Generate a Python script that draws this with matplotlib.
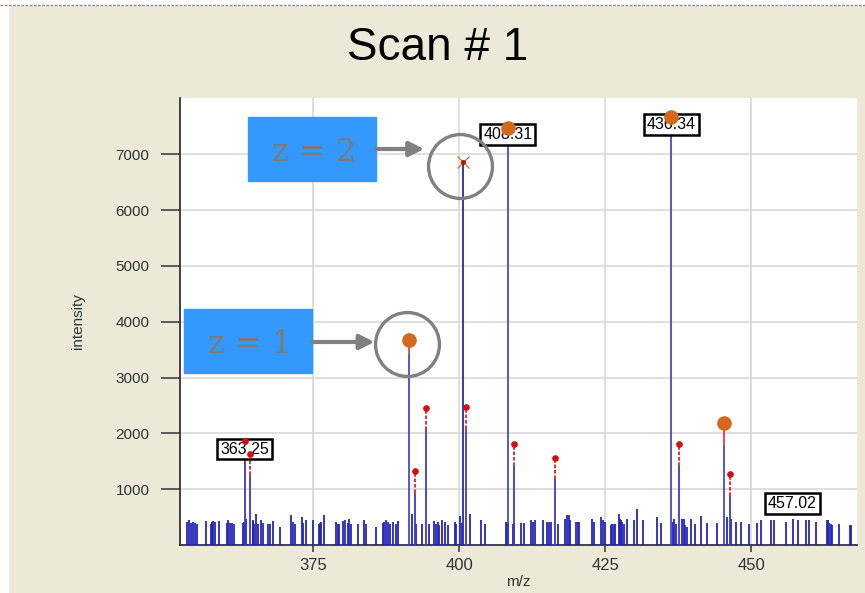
import numpy as np
import matplotlib
matplotlib.use('Agg')
import matplotlib.pyplot as plt
from matplotlib.patches import Rectangle
from matplotlib.lines import Line2D

plt.rcParams['font.family'] = ['Liberation Sans', 'DejaVu Sans']

#%% dane widma

# szum (m/z, intensywnosc)
noise_mz = [353.34, 353.68, 354.08, 354.37, 354.77, 355.05, 356.65, 357.51, 357.6, 357.74,
            357.91, 358.14, 358.94, 360.19, 360.48, 360.76, 361.05, 361.5, 362.93, 363.16,
            363.3, 363.44, 364.64, 364.75, 364.87, 365.21, 365.61, 366.13, 366.36, 367.33,
            367.61, 368.07, 369.32, 371.21, 371.49, 371.89, 373.03, 373.32, 373.72, 375.03,
            375.95, 376.17, 376.35, 376.92, 378.91, 379.2, 379.49, 380.17, 380.51, 381.03,
            381.2, 381.48, 382.62, 383.77, 384.05, 385.76, 386.9, 387.19, 387.48, 387.76,
            388.16, 388.62, 389.19, 389.47, 391.87, 392.61, 393.64, 394.9, 395.75, 396.04,
            396.32, 396.61, 397.07, 397.64, 398.04,
            399.24, 399.46, 400.21, 400.49, 401.92, 403.8, 404.37, 408.08, 408.2, 408.37,
            409.17, 409.3, 410.65, 411.05, 412.36, 412.65, 412.94, 414.3, 415.05, 415.33,
            415.79, 416.93, 418.19, 418.47, 418.76, 419.04, 420.01, 420.35, 420.58,
            422.74, 423.03, 424.34, 424.63, 424.91, 425.94, 426.17, 426.51, 426.74, 427.31,
            427.6, 427.75, 427.94, 428.22, 428.8, 429.94, 430.45, 431.48, 433.87, 434.5,
            436.6, 436.79, 437.19, 438.21, 438.5, 438.73, 439.01, 439.64, 440.33, 441.47,
            442.49, 444.15,
            445.81, 446.61, 447.35, 448.2, 449.63, 451.06, 451.74, 453.34, 453.91, 455.91,
            457.22, 458.02, 459.33, 459.91, 461.05, 462.93, 463.1, 463.33, 463.62, 463.9,
            465.04, 466.92, 467.15]
noise_int = [420, 440, 400, 410, 390, 380, 430, 380, 400, 420,
             430, 410, 430, 400, 440, 390, 400, 380, 390, 420,
             390, 470, 440, 430, 380, 560, 380, 440, 400, 380,
             370, 430, 330, 530, 420, 370, 510, 400, 440, 450,
             370, 400, 410, 540, 420, 380, 380, 430, 440, 400,
             470, 380, 380, 440, 380, 330, 400, 420, 440, 410,
             380, 420, 370, 430, 560, 380, 380, 380, 430, 380,
             420, 360, 440, 420, 350,
             420, 380, 520, 400, 560, 440, 380, 410, 380, 400,
             380, 400, 400, 400, 440, 420, 450, 450, 420, 410,
             410, 380, 470, 530, 540, 440, 420, 420, 420,
             470, 410, 510, 440, 420, 350, 370, 380, 380, 560,
             470, 450, 420, 380, 470, 440, 640, 440, 510, 400,
             420, 470, 380, 470, 470, 350, 320, 470, 380, 520,
             400, 400,
             510, 470, 420, 420, 380, 400, 440, 440, 450, 420,
             470, 450, 440, 440, 420, 450, 440, 400, 380, 360,
             380, 360, 360]

# glowne piki (niebieska linia + czerwony koniec + pomaranczowa kropka)
main_mz = [391.4, 408.31, 436.34, 445.3]
main_blue = [3400, 7200, 7350, 1790]
main_top = [3680, 7465, 7676, 2186]

# pik z = 2
z2_mz = 400.6
z2_int = 6860

# piki izotopowe (czerwona przerywana koncowka)
iso_mz = [363.25, 364.1, 392.5, 394.3, 401.2, 409.4, 416.4, 437.6, 446.3]
iso_blue = [1490, 1250, 940, 2060, 2080, 1420, 1190, 1420, 870]
iso_top = [1860, 1630, 1330, 2450, 2470, 1810, 1565, 1810, 1270]

# etykiety m/z
lab_mz = [363.25, 408.31, 436.34, 457.02]
lab_y = [1720, 7350, 7530, 750]

#%% rysunek

BG = '#ECE9D8'
fig = plt.figure(figsize=(8.65, 5.93), dpi=100, facecolor=BG)
ax = fig.add_axes([180/865, 48/593, 677/865, 447/593])
ax.set_facecolor('white')

# ramka okna
fig.add_artist(Rectangle((0, 0), 8/865, 1, transform=fig.transFigure, color='white', zorder=0))
fig.add_artist(Rectangle((0, 1-5/593), 1, 5/593, transform=fig.transFigure, color='white', zorder=0))
fig.add_artist(Line2D([0, 1], [1-5/593, 1-5/593], transform=fig.transFigure,
                      color='#888888', lw=1, ls=(0, (2, 1))))

ax.vlines(noise_mz, 0, noise_int, color='#2626B8', lw=1.3, zorder=3)

ax.vlines(main_mz, 0, main_blue, color='#3A3AC8', lw=1.2, zorder=3)
ax.vlines(main_mz, main_blue, main_top, color='#E03030', lw=1.2, zorder=3)

ax.vlines(z2_mz, 0, z2_int, color='#2A2AA8', lw=1.3, zorder=3)
ax.plot(z2_mz, z2_int, marker='x', ms=9, mew=0.9, color='#C8703A', zorder=6)
ax.plot(z2_mz, z2_int, marker='o', ms=2.5, color='#CC0000', zorder=6)

ax.vlines(iso_mz, 0, iso_blue, color='#3A3AC8', lw=1.3, zorder=3)
ax.vlines(iso_mz, iso_blue, iso_top, color='#DD2222', lw=1.3, ls=(0, (2, 1)), zorder=3)

for m, t in zip(lab_mz, lab_y):
    ax.text(m, t, '%.2f' % m, ha='center', va='center', fontsize=11.5, color='black', zorder=5,
            bbox=dict(boxstyle='square,pad=0.18', fc='white', ec='black', lw=1.8))

ax.plot(iso_mz, iso_top, 'o', ms=3.8, color='#D01010', zorder=6)
ax.plot(main_mz, main_top, 'o', ms=9.5, color='#D2691E', zorder=7)

# adnotacje z = 1 / z = 2
ax.plot(400.2, 6800, marker='o', ms=46, mfc='none', mec='#808080', mew=2.4, zorder=8)
ax.plot(391.0, 3610, marker='o', ms=46, mfc='none', mec='#808080', mew=2.4, zorder=8)

for x0, x1, y0, y1, txt in [(363.84, 385.76, 6523, 7670, 'z = 2'),
                            (352.88, 374.80, 3082, 4229, 'z = 1')]:
    ax.add_patch(Rectangle((x0, y0), x1 - x0, y1 - y0, color='#3399FF', zorder=8, clip_on=False))
    ax.text((x0 + x1) / 2 + 0.3, (y0 + y1) / 2 - 60, txt, ha='center', va='center', fontsize=23,
            family='DejaVu Serif', color='#7A7A7A', zorder=9)

ax.annotate('', xy=(394.0, 7096), xytext=(385.76, 7096), zorder=9,
            arrowprops=dict(arrowstyle='-|>', color='#808080', lw=3, mutation_scale=22,
                            shrinkA=0, shrinkB=0))
ax.annotate('', xy=(385.5, 3638), xytext=(374.8, 3638), zorder=9,
            arrowprops=dict(arrowstyle='-|>', color='#808080', lw=3, mutation_scale=22,
                            shrinkA=0, shrinkB=0))

ax.set_xlim(352.2, 468.1)
ax.set_ylim(0, 8010)
ax.set_xticks([375, 400, 425, 450])
ax.set_yticks([1000, 2000, 3000, 4000, 5000, 6000, 7000])
ax.grid(True, color='#D9D9D9', lw=1.2)
ax.set_axisbelow(True)
for s in ['top', 'right']:
    ax.spines[s].set_visible(False)
for s in ['left', 'bottom']:
    ax.spines[s].set_color('#333333')
    ax.spines[s].set_linewidth(1.3)
ax.tick_params(axis='y', length=14, width=1.1, color='#333333', labelcolor='#333333',
               labelsize=11, pad=8)
ax.tick_params(axis='x', length=5, width=1.1, color='#333333', labelcolor='#333333',
               labelsize=12, pad=4)

ax.set_xlabel('m/z', fontsize=11, color='#333333', labelpad=2)
ax.set_ylabel('intensity', fontsize=11, color='#333333', labelpad=22)
fig.text(0.506, 0.919, 'Scan # 1', ha='center', va='center', fontsize=33, color='black')

fig.savefig('out.png', dpi=100, facecolor=BG)
